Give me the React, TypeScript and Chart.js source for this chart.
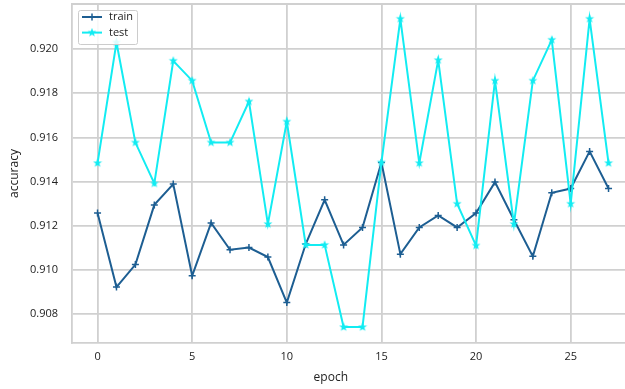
import React, { useEffect, useRef } from "react";
import { Chart, registerables } from "chart.js";

Chart.register(...registerables);

const epochs = [0, 1, 2, 3, 4, 5, 6, 7, 8, 9, 10, 11, 12, 13, 14, 15, 16, 17, 18, 19, 20, 21, 22, 23, 24, 25, 26, 27];
const trainAcc = [0.91258, 0.90923, 0.91025, 0.91295, 0.91389, 0.90974, 0.91213, 0.91092, 0.91102, 0.91059, 0.90853, 0.91118, 0.91318, 0.91114, 0.91193, 0.91487, 0.91072, 0.91193, 0.91247, 0.91193, 0.91258, 0.91398, 0.91228, 0.91062, 0.9135, 0.91369, 0.91537, 0.91369];
const testAcc = [0.91484, 0.9203, 0.91577, 0.91392, 0.91947, 0.91857, 0.91577, 0.91577, 0.91763, 0.91208, 0.91672, 0.91114, 0.91114, 0.90742, 0.90742, 0.91487, 0.92137, 0.91484, 0.9195, 0.913, 0.91111, 0.91857, 0.91208, 0.91857, 0.92042, 0.913, 0.92137, 0.91484];
const xTicks = [0, 5, 10, 15, 20, 25];
const yTicks = [0.908, 0.91, 0.912, 0.914, 0.916, 0.918, 0.92];
const seriesLabels = ["train", "test"];
const xTitle = "epoch";
const yTitle = "accuracy";

const TRAIN_COLOR = "#1d5e92";
const TEST_COLOR = "#12ecf2";
const GRID_COLOR = "#d0d0d0";
const TEXT_COLOR = "#222222";
const FONT = "'Open Sans', 'DejaVu Sans', sans-serif";

function makeStar(color: string, size: number): HTMLCanvasElement {
  const c = document.createElement("canvas");
  c.width = size;
  c.height = size;
  const ctx = c.getContext("2d")!;
  const cx = size / 2;
  const cy = size / 2;
  const outer = size / 2 - 0.3;
  const inner = outer * 0.42;
  ctx.beginPath();
  for (let i = 0; i < 10; i++) {
    const r = i % 2 === 0 ? outer : inner;
    const a = -Math.PI / 2 + (i * Math.PI) / 5;
    const px = cx + r * Math.cos(a);
    const py = cy + r * Math.sin(a);
    if (i === 0) ctx.moveTo(px, py);
    else ctx.lineTo(px, py);
  }
  ctx.closePath();
  ctx.fillStyle = color;
  ctx.fill();
  return c;
}

function zeroPad(scale: any) {
  scale.paddingLeft = 0;
  scale.paddingRight = 0;
  scale.paddingTop = 0;
  scale.paddingBottom = 0;
}

export default function App() {
  const ref = useRef<HTMLCanvasElement | null>(null);

  useEffect(() => {
    if (!ref.current) return;
    const star = makeStar(TEST_COLOR, 10);

    const framePlugin = {
      id: "frame",
      beforeDatasetsDraw(chart: any) {
        const { ctx, chartArea } = chart;
        ctx.save();
        ctx.strokeStyle = GRID_COLOR;
        ctx.lineWidth = 1.8;
        ctx.beginPath();
        ctx.moveTo(chartArea.left, chartArea.top);
        ctx.lineTo(chartArea.right, chartArea.top);
        ctx.stroke();
        ctx.restore();
      },
      afterDraw(chart: any) {
        const { ctx, chartArea } = chart;
        ctx.save();
        ctx.fillStyle = TEXT_COLOR;
        ctx.font = `12px ${FONT}`;
        ctx.textAlign = "center";
        ctx.textBaseline = "middle";
        ctx.fillText(xTitle, chartArea.left + (chartArea.right - chartArea.left) * 0.468, 378);
        ctx.save();
        ctx.translate(15, (chartArea.top + chartArea.bottom) / 2);
        ctx.rotate(-Math.PI / 2);
        ctx.fillText(yTitle, 0, 0);
        ctx.restore();

        // legend
        const bx = chartArea.left + 6;
        const by = chartArea.top + 6;
        const bw = 59;
        const bh = 34;
        ctx.fillStyle = "rgba(255,255,255,0.85)";
        ctx.strokeStyle = "#cccccc";
        ctx.lineWidth = 1;
        ctx.beginPath();
        (ctx as any).roundRect ? (ctx as any).roundRect(bx + 0.5, by + 0.5, bw, bh, 2) : ctx.rect(bx + 0.5, by + 0.5, bw, bh);
        ctx.fill();
        ctx.stroke();
        const ds = chart.data.datasets;
        ds.forEach((d: any, i: number) => {
          const ly = by + 7 + i * 15.6;
          ctx.strokeStyle = d.borderColor;
          ctx.lineWidth = 2;
          ctx.beginPath();
          ctx.moveTo(bx + 4, ly);
          ctx.lineTo(bx + 24, ly);
          ctx.stroke();
          const mx = bx + 14;
          if (i === 0) {
            ctx.beginPath();
            ctx.moveTo(mx - 3.5, ly);
            ctx.lineTo(mx + 3.5, ly);
            ctx.moveTo(mx, ly - 3.5);
            ctx.lineTo(mx, ly + 3.5);
            ctx.lineWidth = 1.5;
            ctx.stroke();
          } else {
            ctx.drawImage(star, mx - 5, ly - 5);
          }
          ctx.fillStyle = TEXT_COLOR;
          ctx.font = `11px ${FONT}`;
          ctx.textAlign = "left";
          ctx.textBaseline = "middle";
          ctx.fillText(d.label, bx + 31, ly);
        });
        ctx.restore();
      },
    };

    const chart = new Chart(ref.current, {
      type: "line",
      data: {
        datasets: [
          {
            label: seriesLabels[0],
            data: epochs.map((e, i) => ({ x: e, y: trainAcc[i] })),
            borderColor: TRAIN_COLOR,
            backgroundColor: TRAIN_COLOR,
            borderWidth: 2,
            pointStyle: "cross",
            pointRadius: 3.5,
            pointBorderWidth: 1.5,
            pointBorderColor: TRAIN_COLOR,
            tension: 0,
            order: 1,
          },
          {
            label: seriesLabels[1],
            data: epochs.map((e, i) => ({ x: e, y: testAcc[i] })),
            borderColor: TEST_COLOR,
            backgroundColor: TEST_COLOR,
            borderWidth: 2,
            pointStyle: star as any,
            pointRadius: 5,
            tension: 0,
            order: 0,
          },
        ],
      },
      options: {
        animation: false,
        responsive: false,
        maintainAspectRatio: false,
        layout: { autoPadding: false, padding: { top: 4, left: 0, right: 0, bottom: 0 } },
        plugins: { legend: { display: false }, tooltip: { enabled: false }, title: { display: false } },
        scales: {
          x: {
            type: "linear",
            min: -1.35,
            max: 27.87,
            afterBuildTicks: (scale: any) => {
              scale.ticks = xTicks.map((v) => ({ value: v }));
            },
            afterFit: (scale: any) => {
              scale.height = 46;
              zeroPad(scale);
            },
            grid: { color: GRID_COLOR, lineWidth: 1.8, drawTicks: false },
            border: { display: true, color: GRID_COLOR, width: 1.8 },
            ticks: {
              padding: 7,
              color: TEXT_COLOR,
              font: { family: FONT, size: 11 },
              maxRotation: 0,
              callback: (v: any) => String(v),
            },
          },
          y: {
            type: "linear",
            min: 0.9067,
            max: 0.92204,
            afterBuildTicks: (scale: any) => {
              scale.ticks = yTicks.map((v) => ({ value: v }));
            },
            afterFit: (scale: any) => {
              scale.width = 72;
              zeroPad(scale);
            },
            grid: { color: GRID_COLOR, lineWidth: 1.8, drawTicks: false },
            border: { display: true, color: GRID_COLOR, width: 1.8 },
            ticks: {
              padding: 14,
              color: TEXT_COLOR,
              font: { family: FONT, size: 11 },
              callback: (v: any) => Number(v).toFixed(3),
            },
          },
        },
      },
      plugins: [framePlugin],
    });
    return () => chart.destroy();
  }, []);

  return (
    <div style={{ position: "fixed", left: 0, top: 0, width: 625, height: 389, background: "#ffffff" }}>
      <canvas ref={ref} width={625} height={389} style={{ display: "block" }} />
    </div>
  );
}
